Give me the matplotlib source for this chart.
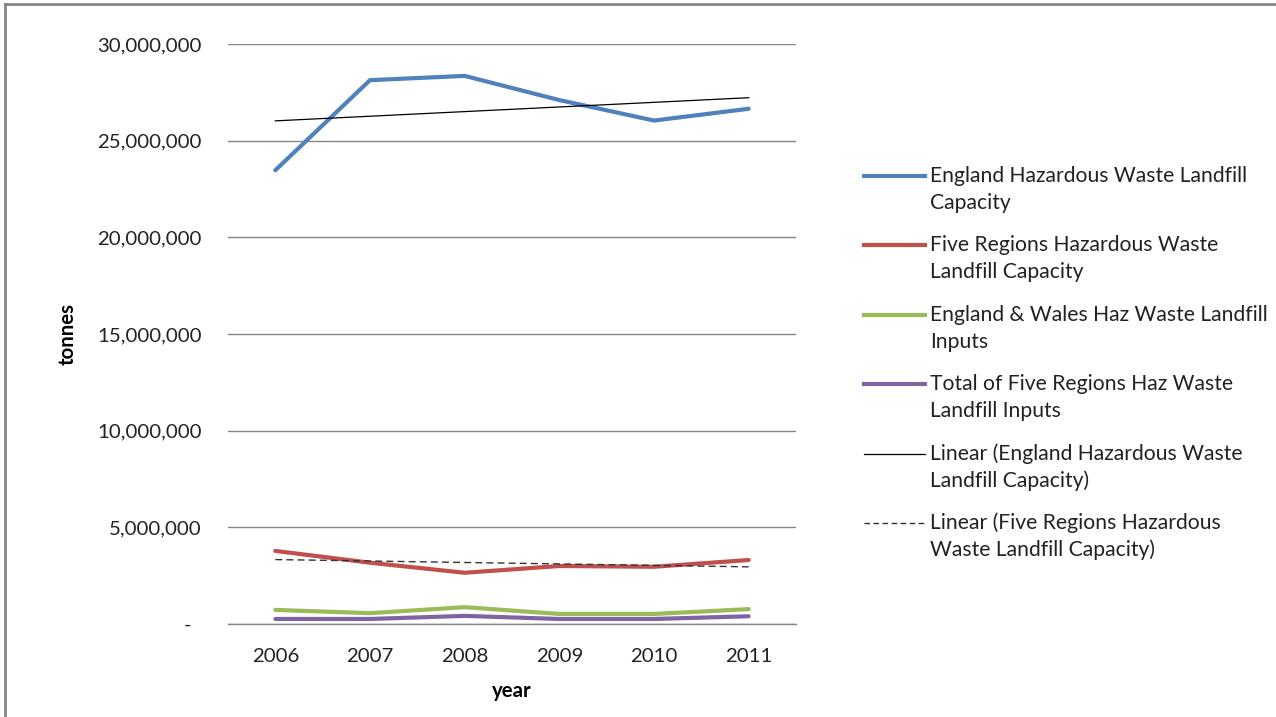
import numpy as np
import matplotlib
matplotlib.use('Agg')
import matplotlib.pyplot as plt
from matplotlib.lines import Line2D
from matplotlib.ticker import FuncFormatter

# values (tonnes)
years = ['2006', '2007', '2008', '2009', '2010', '2011']
england_capacity = [23470000, 28130000, 28350000, 27100000, 26040000, 26650000]
five_regions_capacity = [3780000, 3170000, 2650000, 3000000, 2960000, 3310000]
ew_inputs = [730000, 560000, 870000, 520000, 520000, 770000]
five_regions_inputs = [260000, 260000, 420000, 260000, 260000, 400000]

series_labels = [
    'England Hazardous Waste Landfill\nCapacity',
    'Five Regions Hazardous Waste\nLandfill Capacity',
    'England & Wales Haz Waste Landfill\nInputs',
    'Total of Five Regions Haz Waste\nLandfill Inputs',
]
trend_labels = [
    'Linear (England Hazardous Waste\nLandfill Capacity)',
    'Linear (Five Regions Hazardous\nWaste Landfill Capacity)',
]
colors = ['#4F81BD', '#C0504D', '#9BBB59', '#8064A2']

plt.rcParams['font.family'] = ['Lato', 'DejaVu Sans']
W, H = 1276, 717
fig = plt.figure(figsize=(W / 100, H / 100), dpi=100)
ax = fig.add_axes([228 / W, 1 - 624 / H, (796 - 228) / W, (624 - 44) / H])

x = np.arange(len(years))
all_series = [england_capacity, five_regions_capacity, ew_inputs, five_regions_inputs]
for vals, c in zip(all_series, colors):
    ax.plot(x, vals, color=c, lw=3, solid_capstyle='round', zorder=3)

# linear trendlines like Excel
k, b = np.polyfit(x, england_capacity, 1)
ax.plot(x, k * x + b, color='black', lw=0.9, zorder=4)
k, b = np.polyfit(x, five_regions_capacity, 1)
ax.plot(x, k * x + b, color='#333333', lw=1.0, ls=(0, (5, 3)), zorder=4)

ax.set_xlim(-0.5, len(years) - 0.5)
ax.set_ylim(0, 30000000)
ax.set_yticks(np.arange(0, 30000001, 5000000))
ax.yaxis.set_major_formatter(FuncFormatter(lambda v, p: '-  ' if v == 0 else f'{v:,.0f}'))
ax.set_xticks(x)
ax.set_xticklabels(years)
ax.tick_params(length=0, labelsize=14.7, labelcolor='#222222')
ax.tick_params(axis='y', pad=19)
ax.tick_params(axis='x', pad=17)
ax.grid(axis='y', color='#868686', lw=1)
ax.set_axisbelow(True)
for s in ['top', 'right', 'left']:
    ax.spines[s].set_visible(False)
ax.spines['bottom'].set_color('#868686')
ax.spines['bottom'].set_linewidth(1)

ax.set_xlabel('year', fontsize=14.7, fontweight='bold', labelpad=12)
ax.set_ylabel('tonnes', fontsize=14.7, fontweight='bold', labelpad=14)

# legend drawn by hand so the handle sits on the first text line
handles = [dict(color=c, lw=3, ls='-') for c in colors] + \
          [dict(color='black', lw=0.9, ls='-'), dict(color='#333333', lw=1.0, ls=(0, (4, 2.5)))]
labels = series_labels + trend_labels
y0, step, gap = 176, 69.4, 27
for i, (h, lab) in enumerate(zip(handles, labels)):
    yy = y0 + i * step
    fig.add_artist(Line2D([864 / W, 925 / W], [1 - yy / H] * 2, transform=fig.transFigure, **h))
    for j, line in enumerate(lab.split('\n')):
        fig.text(930 / W, 1 - (yy + j * gap) / H, line, fontsize=15.2, color='#222222',
                 va='center', ha='left')

# chart frame (only left and top edges are visible in the reference)
fig.add_artist(Line2D([5 / W, 5 / W], [0, 1 - 4 / H], transform=fig.transFigure, color='#868686', lw=2))
fig.add_artist(Line2D([5 / W, 1], [1 - 4 / H] * 2, transform=fig.transFigure, color='#868686', lw=2))

fig.savefig('out.png', dpi=100)
